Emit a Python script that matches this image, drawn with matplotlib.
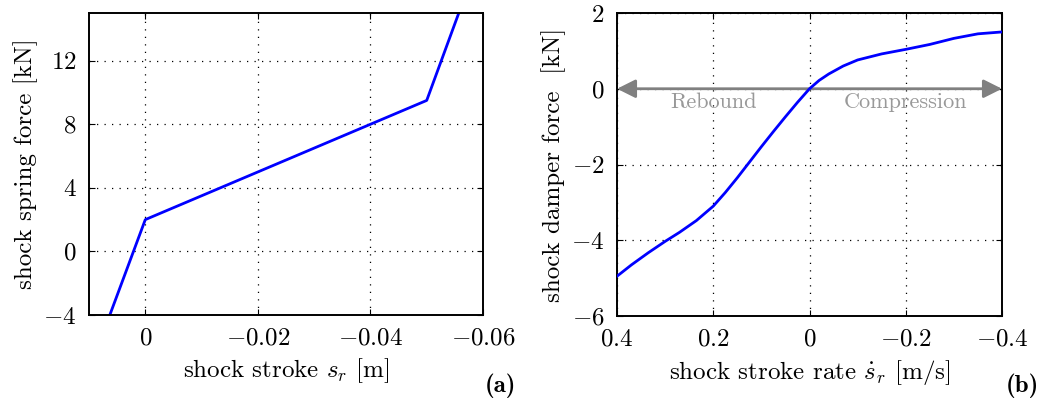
import matplotlib
matplotlib.use("Agg")
import matplotlib.pyplot as plt

plt.rcParams['font.family'] = 'cmr10'
plt.rcParams['mathtext.fontset'] = 'cm'
plt.rcParams['axes.formatter.use_mathtext'] = True
plt.rcParams['axes.unicode_minus'] = True

# (a) spring: stroke [m] vs force [kN]
stroke = [0.0063, 0.0, -0.05, -0.0557]
spring_force = [-4.0, 2.0, 9.5, 15.0]

# (b) damper: stroke rate [m/s] vs force [kN]
rate = [0.4, 0.37, 0.335, 0.3, 0.27, 0.235, 0.2, 0.175, 0.15, 0.125, 0.1,
        0.075, 0.05, 0.025, 0.0, -0.02, -0.04, -0.07, -0.1, -0.15,
        -0.2, -0.25, -0.3, -0.35, -0.4]
damper_force = [-4.95, -4.65, -4.33, -4.03, -3.79, -3.48, -3.10, -2.74, -2.35, -1.94, -1.53,
                -1.13, -0.74, -0.36, 0.0, 0.22, 0.39, 0.60, 0.76, 0.92,
                1.04, 1.17, 1.33, 1.45, 1.5]

W, H = 1054, 405
fig = plt.figure(figsize=(W / 100, H / 100), dpi=100)

ax1 = fig.add_axes([89 / W, (H - 315) / H, (483 - 89) / W, (315 - 13) / H])
ax2 = fig.add_axes([617 / W, (H - 316) / H, (1002 - 617) / W, (316 - 13) / H])

for ax in (ax1, ax2):
    ax.grid(True, linestyle=(0, (1, 5)), color='black', linewidth=0.9)
    ax.tick_params(direction='in', top=True, right=True, labelsize=18, pad=9, length=4)
    for s in ax.spines.values():
        s.set_linewidth(1.4)

ax1.plot(stroke, spring_force, color=(0, 0, 1), linewidth=2)
ax1.set_xlim(0.01, -0.06)
ax1.set_ylim(-4, 15)
ax1.set_xticks([0, -0.02, -0.04, -0.06])
ax1.set_xticklabels(['$0$', '$-0.02$', '$-0.04$', '$-0.06$'])
ax1.set_yticks([-4, 0, 4, 8, 12])
ax1.set_xlabel('shock stroke $s_r$ [m]', fontsize=18, labelpad=5)
ax1.set_ylabel('shock spring force [kN]', fontsize=18, labelpad=4)

ax2.plot(rate, damper_force, color=(0, 0, 1), linewidth=2, zorder=3)
ax2.set_xlim(0.4, -0.4)
ax2.set_ylim(-6, 2)
ax2.set_xticks([0.4, 0.2, 0, -0.2, -0.4])
ax2.set_xticklabels(['$0.4$', '$0.2$', '$0$', '$-0.2$', '$-0.4$'])
ax2.set_yticks([-6, -4, -2, 0, 2])
ax2.set_xlabel(r'shock stroke rate $\dot{s}_r$ [m/s]', fontsize=18, labelpad=5)
ax2.set_ylabel('shock damper force  [kN]', fontsize=18, labelpad=4)

ax2.annotate('', xy=(0.4, 0), xytext=(-0.4, 0),
             arrowprops=dict(arrowstyle='<|-|>', color='#808080', lw=2,
                             mutation_scale=28, shrinkA=0, shrinkB=0), zorder=2)
ax2.text(0.2, -0.35, 'Rebound', color='#999999', fontsize=16, ha='center', va='center')
ax2.text(-0.2, -0.35, 'Compression', color='#999999', fontsize=16, ha='center', va='center')

fig.text(500 / W, 1 - 386 / H, '(a)', family='cmb10', fontsize=18, ha='center', va='center')
fig.text(1022 / W, 1 - 386 / H, '(b)', family='cmb10', fontsize=18, ha='center', va='center')

fig.savefig('out.png', dpi=100)
